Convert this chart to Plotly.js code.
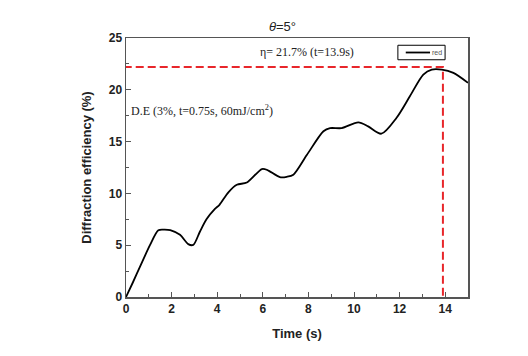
<!DOCTYPE html>
<html><head><meta charset="utf-8">
<script src="https://cdn.plot.ly/plotly-3.0.1.min.js"></script>
<style>html,body{margin:0;padding:0;background:#fff}</style>
</head><body>
<div id="chart" style="width:528px;height:356px"></div>
<script>
var time = [0, 0.3, 0.61, 1.05, 1.42, 1.7, 1.94, 2.37, 2.73, 2.95, 3.24, 3.53, 3.9, 4.1, 4.49, 4.86, 5.3, 5.96, 6.18, 6.75, 7.05, 7.34, 7.93, 8.66, 8.95, 9.46, 10.19, 10.62, 11.2, 11.86, 12.45, 13.04, 13.41, 13.85, 14.36, 15.0];
var efficiency = [0, 1.4, 2.9, 5.0, 6.45, 6.5, 6.45, 6.0, 5.1, 5.03, 6.3, 7.5, 8.5, 8.9, 10.1, 10.83, 11.05, 12.35, 12.28, 11.57, 11.6, 11.8, 13.7, 16.0, 16.3, 16.3, 16.86, 16.47, 15.76, 17.28, 19.37, 21.47, 21.95, 21.95, 21.63, 20.67];
var seriesName = 'red';
var peakLineX = [-0.1, 13.9, 13.9];
var peakLineY = [22.2, 22.2, 0];
var xTicks = [0, 2, 4, 6, 8, 10, 12, 14];
var yTicks = [0, 5, 10, 15, 20, 25];

var axisCommon = {
  showline: true, linecolor: '#555', linewidth: 1.5, mirror: true,
  ticks: 'inside', ticklen: 5, tickcolor: '#555', tickwidth: 1,
  showgrid: false, zeroline: false,
  tickfont: {family: 'Liberation Sans, Arial', size: 12, color: '#222', weight: 'bold'}
};

var data = [
  {x: peakLineX, y: peakLineY, mode: 'lines', showlegend: false,
   line: {color: '#e8262b', width: 2, dash: '8px,4px'}, hoverinfo: 'skip'},
  {x: time, y: efficiency, mode: 'lines', name: seriesName, showlegend: false,
   line: {color: '#000', width: 1.8, shape: 'spline', smoothing: 0.8}}
];

var layout = {
  width: 528, height: 356,
  margin: {l: 126, r: 60, t: 38, b: 59},
  paper_bgcolor: '#fff', plot_bgcolor: '#fff',
  showlegend: false,
  title: {text: '<i>θ</i>=5°', x: 0.535, xanchor: 'center', y: 0.925, yanchor: 'middle',
          font: {family: 'Liberation Sans, Arial', size: 13, color: '#222'}},
  xaxis: Object.assign({}, axisCommon, {
    range: [0, 15], tickvals: xTicks,
    minor: {ticks: 'inside', ticklen: 3, dtick: 1, tickcolor: '#555'},
    title: {text: 'Time (s)', standoff: 14,
            font: {family: 'Liberation Sans, Arial', size: 13, color: '#222', weight: 'bold'}}
  }),
  yaxis: Object.assign({}, axisCommon, {
    range: [0, 25], tickvals: yTicks,
    minor: {ticks: 'inside', ticklen: 3, dtick: 2.5, tickcolor: '#555'},
    title: {text: 'Diffraction efficiency (%)', standoff: 14,
            font: {family: 'Liberation Sans, Arial', size: 13, color: '#222', weight: 'bold'}}
  }),
  shapes: [
    {type: 'rect', xref: 'paper', yref: 'paper', x0: 0.795, x1: 0.933, y0: 0.916, y1: 0.972,
     line: {color: '#000', width: 1}, fillcolor: '#fff'},
    {type: 'line', xref: 'paper', yref: 'paper', x0: 0.818, x1: 0.889, y0: 0.944, y1: 0.944,
     line: {color: '#000', width: 1.8}}
  ],
  annotations: [
    {xref: 'paper', yref: 'paper', x: 0.889, y: 0.944, xanchor: 'left', yanchor: 'middle',
     text: seriesName, showarrow: false,
     font: {family: 'Liberation Sans, Arial', size: 7, color: '#555'}},
    {xref: 'paper', yref: 'paper', x: 0.53, y: 0.945, xanchor: 'center', yanchor: 'middle',
     text: 'η= 21.7% (t=13.9s)', showarrow: false,
     font: {family: 'Liberation Serif, Times New Roman', size: 12, color: '#222'}},
    {xref: 'paper', yref: 'paper', x: 0.008, y: 0.72, xanchor: 'left', yanchor: 'middle',
     text: 'D.E (3%, t=0.75s, 60mJ/cm<sup>2</sup>)', showarrow: false,
     font: {family: 'Liberation Serif, Times New Roman', size: 12, color: '#222'}}
  ]
};

Plotly.newPlot('chart', data, layout, {displayModeBar: false, staticPlot: true});
</script>
</body></html>
